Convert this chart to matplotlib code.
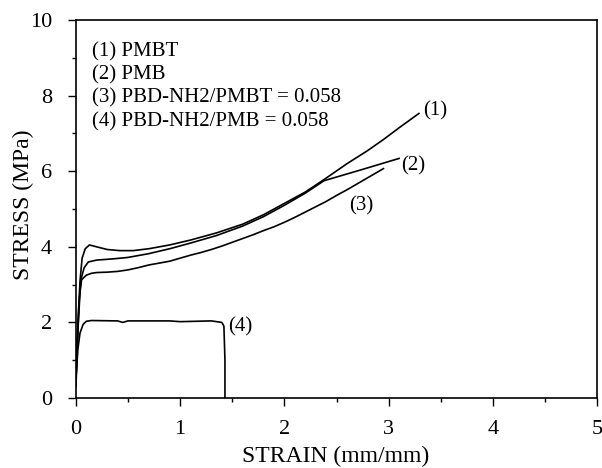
import matplotlib.pyplot as plt
from matplotlib.ticker import MultipleLocator

plt.rcParams['font.family'] = ['Liberation Serif', 'DejaVu Serif']

# (1) PMBT
strain1 = [0.0, 0.01, 0.02, 0.04, 0.06, 0.09, 0.13, 0.2, 0.3, 0.42, 0.55, 0.7, 0.9,
           1.1, 1.35, 1.6, 1.8, 2.0, 2.2, 2.38, 2.6, 2.8, 2.95, 3.1, 3.29]
stress1 = [0.4, 1.2, 2.0, 3.1, 3.7, 3.95, 4.05, 4.0, 3.93, 3.9, 3.9, 3.95, 4.05,
           4.18, 4.37, 4.6, 4.85, 5.15, 5.45, 5.78, 6.2, 6.55, 6.84, 7.15, 7.53]

# (2) PMB
strain2 = [0.0, 0.015, 0.03, 0.05, 0.08, 0.12, 0.2, 0.35, 0.5, 0.7, 0.9, 1.1, 1.35,
           1.6, 1.8, 2.0, 2.2, 2.38, 2.75, 3.1]
stress2 = [0.4, 1.5, 2.5, 3.15, 3.45, 3.6, 3.65, 3.68, 3.72, 3.82, 3.95, 4.1, 4.3,
           4.55, 4.8, 5.1, 5.42, 5.75, 6.05, 6.34]

# (3) PBD-NH2/PMBT = 0.058
strain3 = [0.0, 0.02, 0.04, 0.055, 0.1, 0.15, 0.2, 0.3, 0.4, 0.5, 0.6, 0.7, 0.8, 0.9,
           1.0, 1.1, 1.2, 1.3, 1.4, 1.5, 1.6, 1.7, 1.8, 1.9, 2.0, 2.1, 2.2, 2.3,
           2.4, 2.5, 2.6, 2.7, 2.8, 2.9, 2.95]
stress3 = [0.4, 1.8, 2.8, 3.13, 3.25, 3.3, 3.32, 3.33, 3.35, 3.39, 3.45, 3.52, 3.57,
           3.62, 3.7, 3.78, 3.85, 3.93, 4.02, 4.12, 4.22, 4.32, 4.43, 4.53, 4.65,
           4.78, 4.92, 5.06, 5.2, 5.36, 5.51, 5.67, 5.83, 5.99, 6.07]

# (4) PBD-NH2/PMB = 0.058
strain4 = [0.0, 0.01, 0.02, 0.04, 0.07, 0.1, 0.15, 0.4, 0.45, 0.5, 0.9, 1.0, 1.3,
           1.4, 1.42, 1.43, 1.43]
stress4 = [0.3, 0.9, 1.3, 1.72, 1.95, 2.03, 2.05, 2.04, 2.0, 2.04, 2.04, 2.02, 2.04,
           2.0, 1.9, 1.0, 0.0]

legend_lines = ['(1) PMBT', '(2) PMB', '(3) PBD-NH2/PMBT = 0.058',
                '(4) PBD-NH2/PMB = 0.058']

fig = plt.figure(figsize=(6.02, 4.68), dpi=100)
ax = fig.add_axes([0.126, 0.1496, 0.866, 0.8074])

ax.plot(strain1, stress1, color='black', lw=1.2)
ax.plot(strain2, stress2, color='black', lw=1.2)
ax.plot(strain3, stress3, color='black', lw=1.2)
ax.plot(strain4, stress4, color='black', lw=1.2)

ax.text(3.33, 7.59, '(1)', fontsize=15, ha='left', va='center')
ax.text(3.12, 6.15, '(2)', fontsize=15, ha='left', va='center')
ax.text(2.62, 5.09, '(3)', fontsize=15, ha='left', va='center')
ax.text(1.46, 1.88, '(4)', fontsize=15, ha='left', va='center')

for i, s in enumerate(legend_lines):
    ax.text(0.154, 9.15 - i * 0.61, s, fontsize=15, ha='left', va='center')

ax.set_xlim(0, 5)
ax.set_ylim(0, 10)
ax.xaxis.set_major_locator(MultipleLocator(1))
ax.xaxis.set_minor_locator(MultipleLocator(0.5))
ax.yaxis.set_major_locator(MultipleLocator(2))
ax.yaxis.set_minor_locator(MultipleLocator(1))
ax.tick_params(which='major', direction='out', length=6, width=1, labelsize=16)
ax.tick_params(axis='x', which='major', pad=10)
ax.tick_params(axis='y', which='major', pad=11)
ax.tick_params(which='minor', direction='out', length=3, width=1)
for sp in ax.spines.values():
    sp.set_linewidth(1.2)

fig.text(336 / 602, 1 - 456 / 468, 'STRAIN (mm/mm)', fontsize=17,
         ha='center', va='center')
fig.text(23 / 602, 1 - 205 / 468, 'STRESS (MPa)', fontsize=17,
         ha='center', va='center', rotation=90)

fig.savefig('out.png', dpi=100)
